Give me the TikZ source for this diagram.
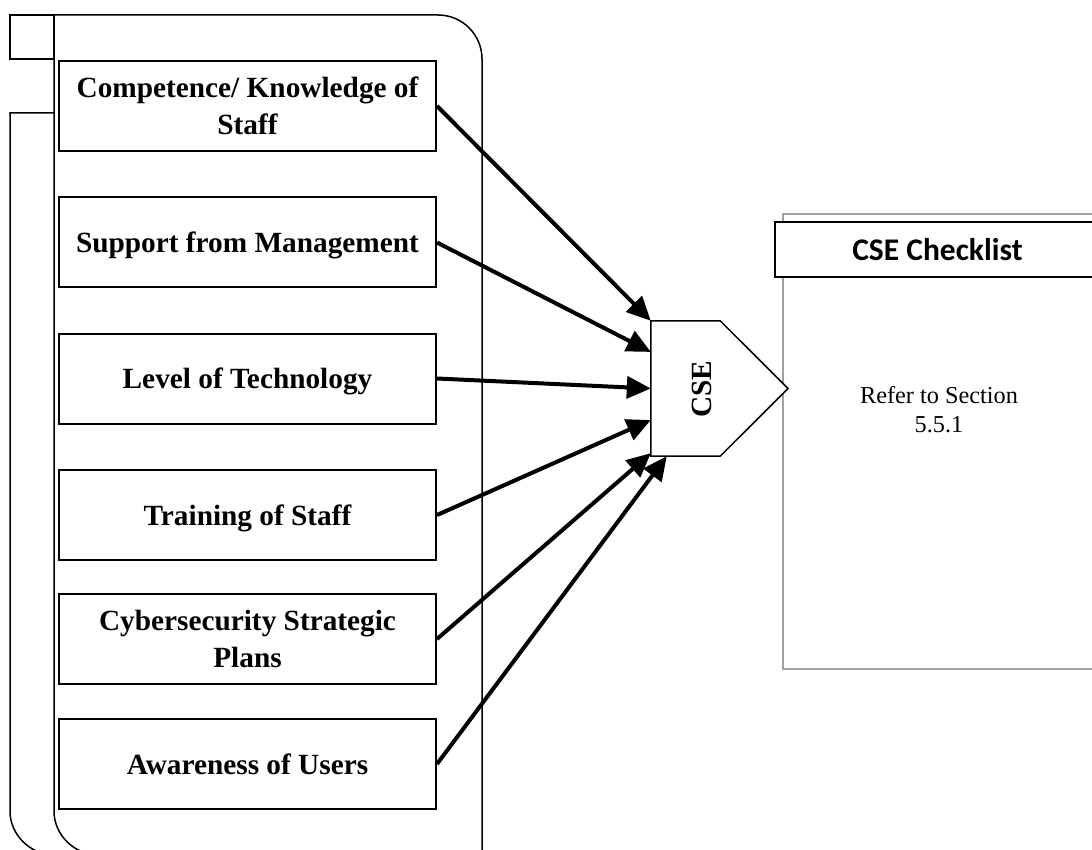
\documentclass[tikz,border=0pt]{standalone}
\usepackage{fontspec}
\setmainfont{Liberation Serif}
\newfontfamily\chkfont{Carlito}
\usetikzlibrary{arrows.meta,calc}
\definecolor{chkgray}{HTML}{A0A0A0}
\begin{document}
\begin{tikzpicture}[x=1pt,y=-1pt,
  factor/.style={draw, line width=2pt, minimum width=377pt, minimum height=90pt, inner sep=0pt, align=center, font=\fontsize{29.3}{37}\selectfont\bfseries},
  oneline/.style={text depth=0pt},
  frame/.style={line width=1.5pt},
  feed/.style={line width=4pt, -{Triangle[length=24pt,width=22pt]}},
  ]
\useasboundingbox (0,0) rectangle (1092,850);
\begin{scope}
\clip (0,0) rectangle (1092,850);
% left containers
\draw[frame] (10,15) rectangle (54,59);
\draw[frame] (54,113) -- (10,113) -- (10,811) .. controls (10,835.3) and (30.7,855) .. (55,855) -- (99,855);
\draw[frame] (54,15) -- (438,15) .. controls (462.3,15) and (482,34.7) .. (482,59) -- (482,855) -- (99,855) .. controls (74.7,855) and (54,835.3) .. (54,811) -- cycle;
% factors
\node[factor] (f1) at (247.5,106) {Competence/ Knowledge of\\Staff};
\node[factor, oneline] (f2) at (247.5,242.5) {Support from Management};
\node[factor, oneline] (f3) at (247.5,378.5) {Level of Technology};
\node[factor, oneline] (f4) at (247.5,515) {Training of Staff};
\node[factor] (f5) at (247.5,639) {Cybersecurity Strategic\\Plans};
\node[factor, oneline] (f6) at (247.5,764) {Awareness of Users};
% checklist
\node[draw=chkgray, line width=2pt, minimum width=312pt, minimum height=455pt, inner sep=0pt] (chk) at (939,441.5) {};
\node[draw, fill=white, line width=2pt, minimum width=325pt, minimum height=55pt, inner sep=0pt, font=\chkfont\fontsize{31.5}{36}\selectfont\bfseries] (hdr) at (937.5,249.5) {CSE Checklist};
\node[align=center, inner sep=0pt, font=\fontsize{24.3}{29}\selectfont] (ref) at (939,410) {Refer to Section\\5.5.1};
% CSE pentagon
\node[minimum width=69pt, minimum height=135pt, inner sep=0pt] (cse) at (685.5,388.5) {};
\coordinate (tip) at (788,388.5);
\draw[line width=1.5pt, fill=white] (cse.north west) -- (cse.north east) -- (tip) -- (cse.south east) -- (cse.south west) -- cycle;
\node[rotate=90, inner sep=0pt, font=\fontsize{29.3}{36}\selectfont\bfseries] (csetxt) at (702,389) {CSE};
% arrows
\draw[feed] (f1.east) -- (cse.north west);
\draw[feed] (f2.east) -- ($(cse.north west)!0.23!(cse.south west)$);
\draw[feed] (f3.east) -- (cse.west);
\draw[feed] (f4.east) -- ($(cse.north west)!0.733!(cse.south west)$);
\draw[feed] (f5.east) -- ($(cse.north west)!0.978!(cse.south west)$);
\draw[feed] (f6.east) -- ($(cse.south west)!0.23!(cse.south east)$);
\end{scope}
\end{tikzpicture}
\end{document}
